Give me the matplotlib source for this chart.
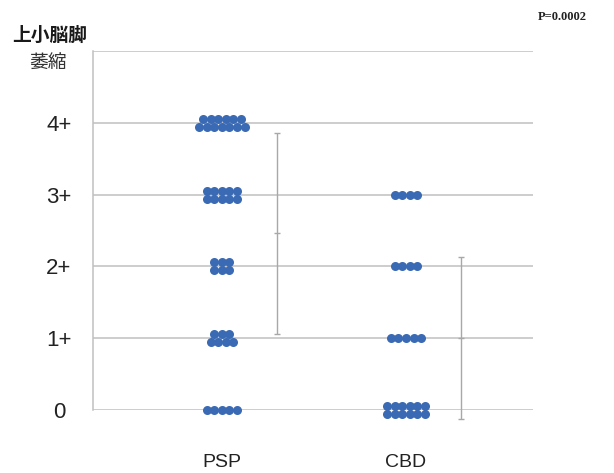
import numpy as np
import matplotlib.pyplot as plt

# groups on the x axis
categories = ["PSP", "CBD"]
# atrophy grades and their tick labels
grades = [0, 1, 2, 3, 4]
grade_labels = ["0", "1+", "2+", "3+", "4+"]

# number of dots per row at each grade (rows stacked around the grade line)
psp_rows = {4: [6, 7], 3: [5, 5], 2: [3, 3], 1: [3, 4], 0: [5]}
cbd_rows = {3: [4], 2: [4], 1: [5], 0: [6, 6]}
group_rows = [psp_rows, cbd_rows]

dot_color = "#3a6ab4"
grid_color = "#c0c0c0"
bar_color = "#a8a8a8"

plt.rcParams['font.family'] = ['Liberation Sans', 'DejaVu Sans']

fig = plt.figure(figsize=(6.14, 4.73), dpi=100)
ax = fig.add_axes([93 / 614, 63 / 473, 440 / 614, 359 / 473])

dx = 0.041      # horizontal spacing between dots
dy = 0.055      # half vertical gap between two rows

for i, rows in enumerate(group_rows):
    scores = []
    for grade, counts in rows.items():
        if len(counts) == 1:
            offsets = [0.0]
        else:
            offsets = [dy, -dy]
        for n, off in zip(counts, offsets):
            xs = i + (np.arange(n) - (n - 1) / 2) * dx
            ax.plot(xs, np.full(n, grade + off), 'o', color=dot_color,
                    markersize=6.5, markeredgewidth=0, zorder=3, clip_on=False)
        scores += [grade] * sum(counts)
    scores = np.array(scores)
    m, sd = scores.mean(), scores.std()
    ax.errorbar(i + 0.30, m, yerr=sd, fmt='_', color=bar_color, ecolor=bar_color,
                elinewidth=1, capsize=2.5, markersize=5, zorder=2, clip_on=False)

ax.set_xlim(-0.70, 1.69)
ax.set_ylim(0, 5)
ax.set_yticks(grades)
ax.set_yticklabels(grade_labels, ha='center')
ax.set_xticks([0, 1])
ax.set_xticklabels(categories)

for g in range(0, 6):
    ax.axhline(g, color=grid_color, linewidth=1.1, zorder=1)

for side in ['top', 'right', 'bottom']:
    ax.spines[side].set_visible(False)
ax.spines['left'].set_color(grid_color)
ax.spines['left'].set_linewidth(1.1)

ax.tick_params(axis='y', length=0, pad=24.5, labelsize=16, labelcolor='#222222')
ax.tick_params(axis='x', length=0, pad=32, labelsize=14, labelcolor='#222222')

fig.text(50 / 614, 1 - 35 / 473, "上小脳脚", family=['Noto Sans CJK JP', 'DejaVu Sans'],
         fontsize=13.5, fontweight='bold', ha='center', va='center', color='#1a1a1a')
fig.text(48 / 614, 1 - 62 / 473, "萎縮", family=['Noto Sans CJK JP', 'DejaVu Sans'],
         fontsize=13.5, ha='center', va='center', color='#333333')
fig.text(538 / 614, 1 - 17 / 473, "P=0.0002", family=['Liberation Serif', 'DejaVu Serif'],
         fontsize=9, fontweight='bold', ha='left', va='center', color='#222222')

fig.savefig("out.png", dpi=100)
